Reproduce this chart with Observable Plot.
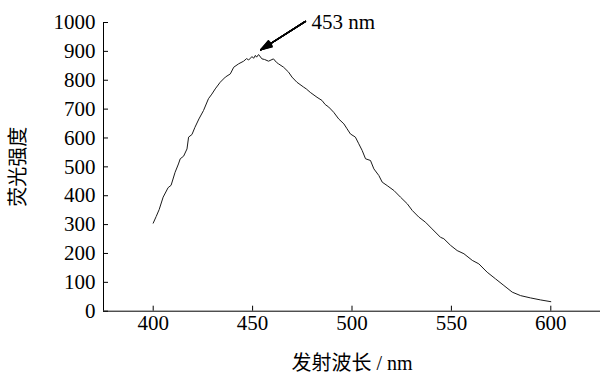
<!DOCTYPE html>
<html><head><meta charset="utf-8">
<script src="https://cdn.jsdelivr.net/npm/d3@7"></script>
<script src="https://cdn.jsdelivr.net/npm/@observablehq/plot@0.6"></script>
<style>body{margin:0;background:#fff}</style>
</head><body><div id="chart"></div>
<script>
const wavelength = [400,401.5,403,405,407.5,409,411,412.7,413.6,415.3,417,417.8,419.5,421,423,425.3,427.8,429.5,431.2,433.7,436.3,438.8,440.5,443,445.5,447,448,449.7,450.5,451.4,452,453,454.7,456,458,460.5,462,463,465.6,468.1,469.8,472.3,475.7,477,479,482.4,484.9,486.5,488.3,490.8,493.3,495.9,497.5,499.2,501.7,503.4,505.1,506.8,509.3,511,513.5,515.2,517.7,521.1,524.4,527.8,530.3,533.6,537,540.3,544.5,546.2,549.6,552.9,556.3,560.5,563.8,568,572.2,576.4,580.6,584.8,589.8,594.9,600];
const intensity = [305,328,352,395,428,436,481,510,528,537,562,603,612,637,666,695,736,752,770,793,811,822,845,857,866,875,870,882,876,886,880,889,874,872,866,874,862,857,845,828,811,793,776,770,758,741,730,716,707,689,666,649,632,614,603,580,557,528,522,493,470,447,435,418,395,372,349,326,308,285,256,251,228,210,199,176,164,135,112,89,66,54,46,39,33];
const xTicks = [400,450,500,550,600];
const yTicks = [0,100,200,300,400,500,600,700,800,900,1000];
const yLabel = "荧光强度";
const xLabel = "发射波长 / nm";
const peakLabel = "453 nm";
const arrowFrom = [476.6, 1004];
const arrowTo = [454, 905];
const peakTextAt = [479.6, 1002];
const headAngles = [0, 6, 12, 18, 24, 30, 36];

const data = wavelength.map((w, i) => ({w, v: intensity[i]}));
const arrows = headAngles.map(a => ({x1: arrowFrom[0], y1: arrowFrom[1], x2: arrowTo[0], y2: arrowTo[1], a}));
const fmt = d => String(d);

const plot = Plot.plot({
  width: 601, height: 374,
  marginLeft: 103, marginRight: 1, marginTop: 22, marginBottom: 63.3,
  x: {domain: [375, 625]},
  y: {domain: [0, 1000]},
  style: {fontFamily: '"Liberation Serif","Noto Sans CJK SC",serif', fontSize: "21px", color: "#000", background: "#fff"},
  marks: [
    Plot.axisX({ticks: xTicks, tickSize: 5, dy: -5, tickFormat: () => "", label: null, stroke: "#000"}),
    Plot.axisX({ticks: xTicks, tickSize: 0, tickPadding: 4, tickFormat: fmt, label: null, fontSize: 21}),
    Plot.axisY({ticks: yTicks, tickSize: 5, dx: 5, tickFormat: () => "", label: null, stroke: "#000"}),
    Plot.axisY({ticks: yTicks, tickSize: 0, tickPadding: 8, tickFormat: fmt, label: null, fontSize: 21}),
    Plot.ruleX([375], {y1: 0, y2: 1000, stroke: "#000"}),
    Plot.ruleY([0], {stroke: "#000"}),
    Plot.line(data, {x: "w", y: "v", stroke: "#1a1a1a", strokeWidth: 1}),
    ...arrows.map(d => Plot.arrow([d], {x1: "x1", y1: "y1", x2: "x2", y2: "y2", headAngle: d.a, headLength: 14, stroke: "#000", strokeWidth: 1.3})),
    Plot.text([peakLabel], {x: peakTextAt[0], y: peakTextAt[1], textAnchor: "start", fontSize: 21}),
    Plot.text([yLabel], {frameAnchor: "left", dx: -85, rotate: -90, textAnchor: "middle", lineAnchor: "middle", fontSize: 20}),
    Plot.text([xLabel], {frameAnchor: "bottom", dy: 52, textAnchor: "middle", lineAnchor: "middle", fontSize: 20})
  ]
});
document.getElementById("chart").appendChild(plot);
</script>
</body></html>
